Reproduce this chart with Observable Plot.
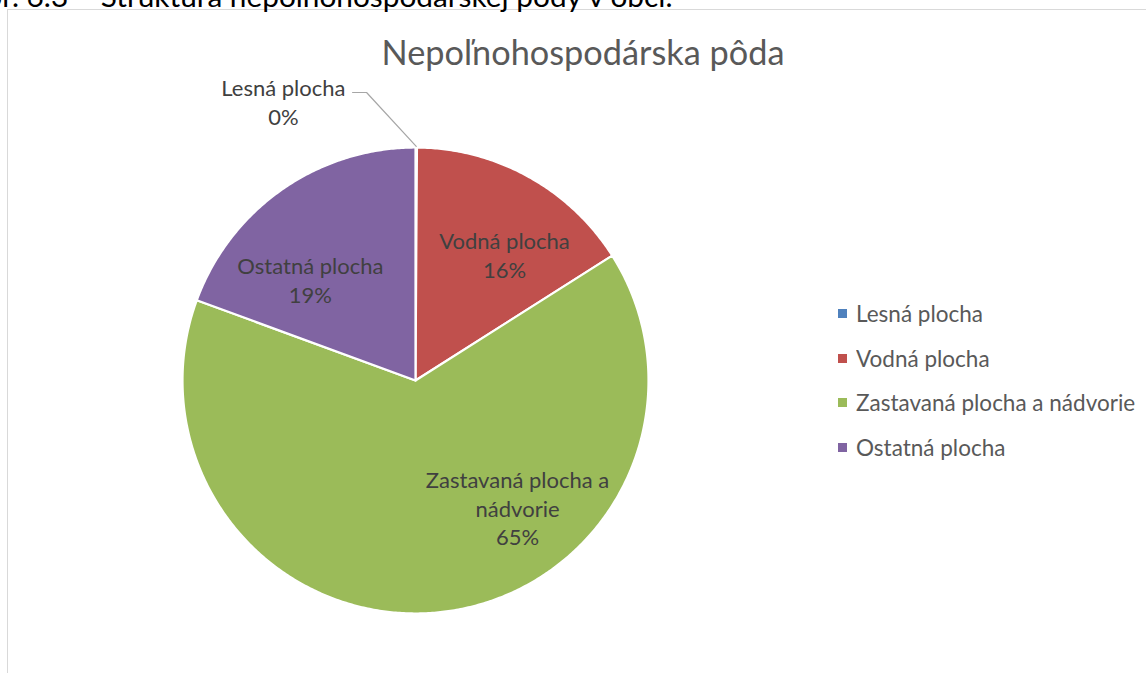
<!DOCTYPE html>
<html>
<head>
<meta charset="utf-8">
<script src="https://cdn.jsdelivr.net/npm/d3@7"></script>
<script src="https://cdn.jsdelivr.net/npm/@observablehq/plot@0.6"></script>
<style>
  html, body { margin: 0; padding: 0; background: #fff; overflow: hidden; width: 1146px; height: 673px; }
  body { position: relative; font-family: Lato, "Open Sans", sans-serif; }
  #caption { position: absolute; left: -38px; top: -22px; font-size: 29.8px; line-height: 1.2; color: #000; white-space: nowrap; }
  #frame { position: absolute; left: 7px; top: 9px; width: 1300px; height: 800px; border: 1px solid #d9d9d9; box-sizing: border-box; }
  #chart { position: absolute; left: 0; top: 0; }
  #title { position: absolute; left: 0; width: 1166px; top: 31px; text-align: center; font-size: 34.3px; line-height: 1.2; color: #595959; }
  #legend { position: absolute; left: 838px; top: 291px; }
  .lg-swatch { height: 44.7px !important; padding: 0 !important; margin: 0 !important; display: flex !important; align-items: center !important; }
  .lg-swatch svg { margin-right: 9px !important; }
</style>
</head>
<body>
<div id="frame"></div>
<div id="caption"></div>
<div id="chart"></div>
<div id="title"></div>
<div id="legend"></div>
<script>
// ---- data ----
const captionText = "Obr. 6.3 – Štruktúra nepoľnohospodárskej pôdy v obci.";
const titleText = "Nepoľnohospodárska pôda";
const categories = ["Lesná plocha", "Vodná plocha", "Zastavaná plocha a nádvorie", "Ostatná plocha"];
const labelTexts = ["Lesná plocha", "Vodná plocha", "Zastavaná plocha a\nnádvorie", "Ostatná plocha"];
const values = [0.1, 15.9, 64.6, 19.4];
const colors = ["#4F81BD", "#C0504D", "#9BBB59", "#8064A2"];

// ---- layout (not data): label anchors in unit-circle coords ----
const labelLayout = [
  {x: -0.567, y: 1.197},
  {x: 0.382, y: 0.541},
  {x: 0.438, y: -0.545},
  {x: -0.451, y: 0.433}
];
const leaderStart = [{x: -0.270, y: 1.236}, {x: -0.210, y: 1.236}];

// ---- build slices ----
const total = d3.sum(values);
const pie = d3.pie().sort(null).value(d => d)(values);
const slicePts = [];
pie.forEach((p, i) => {
  const a0 = p.startAngle, a1 = p.endAngle;
  const n = Math.max(2, Math.ceil((a1 - a0) / (Math.PI / 360)));
  slicePts.push({cat: categories[i], x: 0, y: 0});
  for (let k = 0; k <= n; k++) {
    const a = a0 + (a1 - a0) * k / n;
    slicePts.push({cat: categories[i], x: Math.sin(a), y: Math.cos(a)});
  }
  slicePts.push({cat: categories[i], x: 0, y: 0});
});

const labels = categories.map((c, i) => ({
  text: labelTexts[i] + "\n" + Math.round(values[i] / total * 100) + "%",
  x: labelLayout[i].x, y: labelLayout[i].y
}));

// leader line for the tiny slice
const midA = (pie[0].startAngle + pie[0].endAngle) / 2;
const leader = [...leaderStart, {x: Math.sin(midA) * 1.005, y: Math.cos(midA) * 1.005}];

const color = {domain: categories, range: colors};

const chart = Plot.plot({
  width: 1146,
  height: 673,
  margin: 0,
  x: {domain: [-1, 1], range: [182, 648], axis: null},
  y: {domain: [-1, 1], range: [613, 147], axis: null},
  color,
  style: {background: "transparent", fontFamily: "Lato, 'Open Sans', sans-serif"},
  marks: [
    Plot.line(slicePts, {x: "x", y: "y", z: "cat", fill: "cat", stroke: "#fff", strokeWidth: 2.2, strokeLinejoin: "round", curve: "linear"}),
    Plot.line(leader, {x: "x", y: "y", stroke: "#a6a6a6", strokeWidth: 1.2}),
    Plot.text(labels, {x: "x", y: "y", text: "text", fill: "#404040", fontSize: 22, lineHeight: 1.3, textAnchor: "middle", lineAnchor: "middle"})
  ]
});
document.getElementById("chart").appendChild(chart);
document.getElementById("title").textContent = titleText;
document.getElementById("caption").textContent = captionText;

const leg = Plot.legend({
  color: {type: "ordinal", ...color},
  legend: "swatches",
  columns: 1,
  swatchSize: 9,
  className: "lg",
  style: {fontSize: "22.5px", color: "#595959", fontFamily: "Lato, 'Open Sans', sans-serif"}
});
document.getElementById("legend").appendChild(leg);
</script>
</body>
</html>
